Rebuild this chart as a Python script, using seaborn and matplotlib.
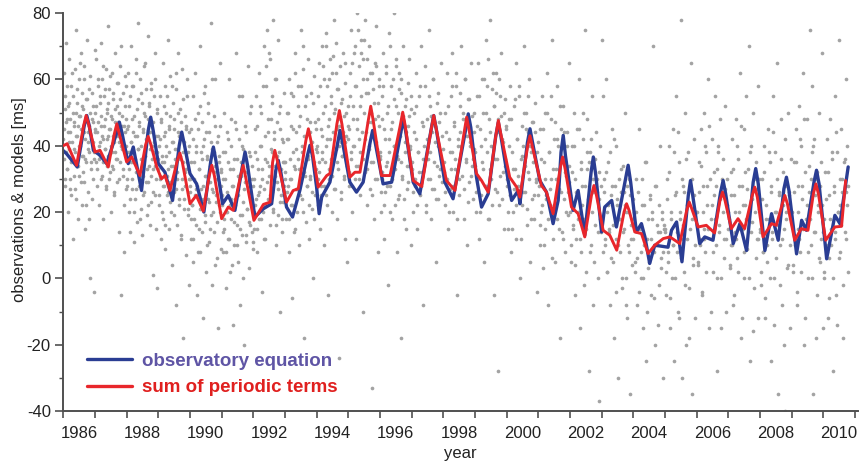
import matplotlib
matplotlib.use("Agg")
import matplotlib.pyplot as plt
from matplotlib.ticker import FixedLocator, NullFormatter
import seaborn as sns
import pandas as pd

# ---------------- data ----------------
# scattered observations, one list per year (in time order through the year)
obs_1986 = [62, 45, 28, 55, 38, 71, 33, 48, 20, 52, 41, 66, 30, 44, 58, 25, 36, 50, 12, 47, 39, 63, 27, 43, 75, 34, 53, 18, 46, 60, 31, 49, 40, 68, 22, 56, 37, 51, 29, 64, 42, 15, 54, 35, 47, 72, 26, 44, 57, 38, 0, 61, 33, 48, 24, 52, 41, 36, -4, 45]
obs_1987 = [50, 35, 66, 28, 44, 58, 40, 22, 53, 37, 71, 46, 31, 60, 42, 18, 55, 39, 48, 27, 63, 34, 51, 43, 76, 30, 57, 45, 20, 49, 38, 62, 33, 54, 41, 25, 47, 68, 36, 52, 29, 59, 43, 14, 50, 35, 64, 40, -5, 46, 31, 56, 39, 8, 44, 61, 27, 48]
obs_1988 = [45, 30, 62, 20, 38, 55, 14, 41, 70, 27, 48, 35, 58, 11, 43, 24, 66, 32, 51, 17, 39, 77, 28, 46, 60, 21, 36, 53, 13, 44, 31, 64, 26, 49, 37, 57, 19, 42, 73, 29, 52, 34, 16, 47, 59, 23, 40, 33, 1, 55, 38, 25, 68, 43, 30, -3, 50, 36]
obs_1989 = [40, 22, 55, 31, 12, 47, 35, 65, 18, 43, 28, 58, 9, 37, 50, 25, 72, 33, 15, 45, 29, 61, 20, 41, 4, 53, 34, 26, 48, 39, -8, 57, 30, 16, 44, 68, 24, 36, 51, 13, 42, 27, 63, -18, 38, 21, 49, 32, 7, 46, 35, 55, 19, 40, -2, 28]
obs_1990 = [30, 12, 45, 22, 55, 5, 35, 18, 62, 27, 40, -5, 25, 50, 15, 33, 70, 8, 38, 21, 47, 28, -12, 42, 17, 58, 31, 2, 36, 24, 53, 11, 44, 29, 77, 19, 39, -2, 26, 49, 14, 34, 60, 23, 41, 6, 30, -15, 37, 20, 46, 9, 32]
obs_1991 = [25, 8, 38, 15, 50, 30, -3, 20, 44, 12, 35, 60, 22, 2, 40, 18, 28, -14, 33, 10, 47, 24, 68, 16, 36, 5, 27, 42, -8, 19, 31, 55, 13, 39, 23, -20, 29, 46, 11, 34, 21, 64, 17, 3, 37, 26, 52, 14, 30, 9]
obs_1992 = [30, 15, 45, 22, 55, 8, 36, 25, 62, 18, 40, 28, 50, -4, 33, 20, 70, 27, 43, 12, 58, 35, 75, 24, 48, 31, 66, 16, 39, 53, 26, 78, 21, 44, 60, 34, 10, 47, 29, 72, 19, 38, -10, 52, 25, 42, 14, 35, 23, 56, 30]
obs_1993 = [35, 18, 50, 26, 42, 8, 60, 30, 22, 46, -6, 38, 55, 14, 33, 68, 27, 44, 20, 58, 36, 10, 49, 29, 75, 40, 24, 63, 32, -18, 52, 17, 43, 28, 66, 37, 12, 47, 31, 56, 21, 41, 0, 34, 61, 25, 45, 39]
obs_1994 = [40, 22, 55, 32, 65, 15, 45, 28, 70, 38, 50, 10, 60, 35, 25, 74, 42, 58, -5, 48, 30, 66, 36, 53, 20, 62, 44, 78, 27, 51, 39, 71, 18, 57, 33, 46, -24, 64, 41, 26, 54, 37, 68, 31, 49, 12, 59, 43, 34, 5, 52]
obs_1995 = [45, 28, 62, 36, 75, 20, 52, 40, 68, 30, 58, 12, 48, 80, 34, 64, 42, 25, 72, 55, 38, 66, -10, 50, 32, 78, 44, 60, 22, 56, 39, 70, 27, 47, -33, 62, 35, 53, 18, 65, 41, 76, 30, 49, 8, 58, 37]
obs_1996 = [38, 20, 55, 30, 68, 12, 45, 26, 62, 35, 50, -2, 42, 74, 28, 58, 18, 47, 33, 80, 40, 22, 64, 52, 8, 36, 57, 25, 44, -18, 60, 31, 49, 70, 24, 41, 15, 54, 34, 46, 29, 66, 39, 10, 51]
obs_1997 = [35, 20, 50, 28, 62, 42, 15, 38, 55, 25, 70, 32, 46, -8, 40, 58, 22, 48, 36, 75, 30, 52, 18, 44, 60, 27, 41, 5, 34, 56, 24, 47, 33, 65, 29, 39]
obs_1998 = [35, 22, 50, 30, 62, 15, 42, 27, 55, 38, 68, 20, 46, 33, 58, -5, 40, 25, 52, 44, 70, 31, 48, 18, 60, 36, 43, 10, 54, 29, 41, 65, 34, 24, 50, 39]
obs_1999 = [38, 20, 55, 30, 65, 12, 45, 25, 60, 35, 50, 5, 42, 72, 28, 58, 18, 48, 33, 78, 40, 22, 62, 52, -5, 36, 56, 26, 44, -28, 60, 31, 49, 68, 24, 41, 15, 54, 34, 46]
obs_2000 = [30, 15, 48, 25, 58, 8, 38, 20, 52, 33, 65, 12, 42, 28, 55, 0, 36, 22, 46, 40, 70, 26, 50, 16, 44, 32, 60, 5, 38, 24, 47, 35, 18, 53, 29, -4, 41]
obs_2001 = [28, 10, 45, 20, 55, 3, 35, 15, 50, 25, 62, -8, 38, 22, 48, 30, 72, 12, 42, 5, 33, 58, 18, 40, 27, -18, 45, 14, 36, 52, 24, 8, 31, 44, 19, 65, 29]
obs_2002 = [25, 5, 40, 15, 50, -5, 30, 12, 45, 20, 60, -15, 35, 8, 28, 42, 18, 75, 2, 33, 48, 22, -28, 38, 10, 55, 26, -8, 36, 16, 44, 30, 0, 24, -37, 40, 14]
obs_2003 = [72, 55, 30, 10, 60, 20, 2, 35, 15, -8, 25, 45, 5, -18, 28, 12, 40, 22, -30, 18, 8, 33, -3, 14, 26, 50, 0, 20, -12, 10, 30, -35, 16, 4, 24]
obs_2004 = [20, 5, 30, -8, 15, 45, 0, 22, -15, 10, 35, -25, 12, 3, 25, -5, 18, 70, 8, -20, 28, 14, -2, 40, 6, 20, -30, 16]
obs_2005 = [15, -5, 30, 5, 40, -15, 20, 0, 45, 10, -25, 25, 55, 8, -10, 35, 18, 78, -30, 12, 28, 2, 50, -20, 22, 38, -3, 15, 65, -35, 30, 6, 42, -12, 20]
obs_2006 = [20, 5, 35, 12, 45, -5, 28, 15, 50, 8, 38, 22, 60, -15, 30, 18, 42, 2, 25, 55, 10, 33, -28, 40, 16, 48, 0, 26, 36, 12, 52, -10, 30, 20]
obs_2007 = [18, 3, 32, 10, 42, -8, 25, 14, 48, 6, 36, 20, 62, -18, 28, 15, 45, 0, 22, 55, 9, 33, 70, -25, 40, 17, 50, -3, 27, 35, 12, 58, -12, 30]
obs_2008 = [15, -2, 30, 8, 40, -12, 22, 5, 45, 18, 35, -25, 28, 12, 55, 0, 38, 20, 65, -35, 25, 10, 48, -8, 32, 15, 42, -40, 20, 3, 50, 26, -15, 36]
obs_2009 = [20, 2, 35, 12, 45, -8, 28, 15, 52, 8, 40, 24, 62, -20, 32, 18, 48, 0, 26, 75, 10, 38, 58, -35, 42, 14, 30, -5, 22, 50, 5, 35, 68, -15]
obs_2010 = [18, 0, 32, 10, 42, -12, 25, 6, 48, 15, 36, -28, 28, 12, 55, -5, 38, 20, 72, 22, 8, 45, 30, -18, 35, 14, 60, 26, 40, 2]

# the dense band of observations close to the models, one list per year
band_1986 = [42, 36, 51, 30, 47, 58, 33, 44, 39, 53, 27, 48, 35, 62, 41, 55, 31, 46, 38, 50, 24, 43, 57, 34, 49, 40, 65, 29, 45, 37, 52, 32, 60, 44, 36, 48, 22, 54, 41, 39, 46, 18, 50, 35, 42, 56, 30, 47, 38, 69]
band_1987 = [44, 38, 52, 33, 47, 60, 36, 41, 55, 30, 49, 43, 64, 35, 46, 39, 57, 28, 50, 42, 37, 53, 45, 32, 61, 40, 48, 34, 56, 43, 26, 51, 38, 45, 59, 36, 47, 41, 30, 54, 44, 70, 39, 49, 33, 46, 22, 52, 40, 58]
band_1988 = [38, 28, 46, 33, 52, 24, 41, 35, 58, 30, 44, 20, 49, 36, 62, 27, 43, 39, 54, 31, 47, 18, 40, 56, 34, 45, 25, 50, 37, 65, 29, 42, 33, 48, 22, 53, 39, 44, 31, 57, 36, 26, 47, 41, 60, 34, 15, 51, 38, 43]
band_1989 = [33, 25, 42, 30, 48, 20, 37, 28, 52, 35, 44, 16, 40, 31, 55, 26, 46, 38, 23, 49, 34, 58, 29, 41, 19, 45, 36, 62, 27, 39, 32, 50, 22, 43, 37, 12, 47, 30, 54, 35, 24, 41, 28, 45, 33, 60, 38, 21, 44, 30]
band_1990 = [26, 18, 35, 22, 42, 12, 30, 25, 48, 16, 38, 28, 45, 8, 33, 21, 52, 27, 36, 14, 40, 24, 56, 19, 31, 44, 10, 37, 29, 50, 23, 34, 15, 41, 27, 60, 20, 32, 38, 4, 46, 25, 30, 17, 43, 35, 22, 65, 28, 33]
band_1991 = [22, 14, 30, 18, 38, 8, 26, 20, 42, 12, 33, 24, 48, 4, 28, 17, 36, 22, 45, 10, 31, 25, 55, 15, 35, 19, 40, 0, 27, 32, 13, 44, 21, 29, 38, 16, 50, 23, 34, 11]
band_1992 = [28, 20, 38, 24, 46, 15, 33, 26, 52, 18, 40, 30, 58, 12, 36, 22, 64, 29, 44, 34, 68, 25, 48, 38, 55, 20, 42, 31, 60, 16, 37, 27, 50, 23, 45, 33, 18, 41, 28, 35]
band_1993 = [32, 24, 42, 28, 50, 18, 36, 30, 56, 22, 45, 34, 62, 15, 39, 27, 52, 33, 46, 25, 58, 38, 70, 20, 43, 31, 55, 28, 48, 36, 22, 44, 30, 40, 26, 53, 35, 18, 47, 33]
band_1994 = [38, 30, 48, 35, 58, 25, 43, 36, 64, 28, 52, 40, 70, 22, 46, 33, 60, 42, 55, 31, 67, 38, 50, 27, 62, 45, 35, 57, 40, 48, 24, 53, 37, 44, 30, 65, 41, 50, 34, 46]
band_1995 = [42, 32, 55, 38, 65, 28, 48, 40, 70, 34, 58, 45, 75, 30, 52, 38, 68, 44, 60, 36, 72, 42, 56, 33, 66, 47, 40, 62, 35, 50, 25, 57, 43, 48, 30, 64, 39, 53, 46, 60]
band_1996 = [36, 26, 48, 32, 58, 22, 42, 34, 64, 28, 52, 38, 70, 20, 45, 30, 60, 40, 54, 33, 66, 37, 50, 24, 62, 43, 35, 56, 30, 47, 18, 52, 38, 44, 27, 59, 34, 49, 40, 55]
band_1997 = [33, 26, 44, 30, 52, 22, 38, 32, 58, 28, 47, 36, 64, 20, 42, 30, 55, 38, 49, 27, 60, 35, 46, 24, 53, 40, 31, 50, 36, 43]
band_1998 = [32, 26, 44, 30, 52, 20, 38, 33, 58, 28, 47, 36, 62, 18, 42, 30, 56, 40, 50, 27, 60, 35, 46, 23, 54, 40, 31, 49, 36, 44]
band_1999 = [34, 26, 46, 30, 55, 20, 40, 33, 60, 28, 50, 38, 66, 18, 44, 30, 57, 40, 52, 27, 62, 36, 48, 22, 55, 42, 32, 50, 36, 45]
band_2000 = [28, 20, 40, 25, 48, 15, 33, 27, 54, 22, 42, 31, 58, 12, 37, 26, 50, 34, 45, 21, 55, 30, 40, 18, 47, 35, 25, 44, 30, 38]
band_2001 = [25, 16, 36, 22, 45, 10, 30, 24, 50, 18, 38, 27, 55, 6, 33, 22, 47, 30, 42, 15, 52, 26, 36, 12, 44, 32, 20, 40, 26, 34]
band_2002 = [20, 10, 32, 16, 40, 4, 26, 18, 45, 12, 33, 22, 50, -2, 28, 15, 38, 24, 35, 8, 42, 20, 30, 5, 36, 26, 14, 32, 18, 28]
band_2003 = [18, 8, 26, 12, 32, 2, 22, 14, 38, 6, 28, 16, 42, -4, 24, 10, 30, 18, 26, 0, 34, 15, 22, -8, 28, 20, 8, 25, 12, 18]
band_2004 = [12, 2, 20, 6, 26, -4, 15, 8, 30, 0, 22, 10, 35, -10, 18, 5, 24, 12, 20, -6, 28, 10, 16, -14, 22, 14, 3, 18, 8, 15]
band_2005 = [14, 2, 24, 8, 32, -6, 18, 10, 38, 0, 26, 14, 44, -12, 20, 6, 30, 16, 26, -2, 36, 12, 22, -18, 28, 18, 4, 25, 10, 20]
band_2006 = [16, 4, 26, 10, 34, -4, 20, 12, 40, 2, 28, 15, 46, -10, 22, 8, 32, 18, 28, 0, 38, 14, 24, -15, 30, 20, 6, 27, 12, 22]
band_2007 = [15, 4, 25, 10, 33, -5, 20, 12, 40, 2, 28, 15, 46, -12, 22, 8, 32, 18, 27, 0, 38, 14, 24, -16, 30, 20, 6, 27, 12, 21]
band_2008 = [14, 2, 24, 8, 32, -6, 18, 10, 38, 0, 26, 14, 44, -14, 20, 6, 30, 16, 26, -2, 36, 12, 22, -20, 28, 18, 4, 25, 10, 20]
band_2009 = [16, 4, 26, 10, 35, -4, 20, 12, 42, 2, 28, 15, 48, -12, 22, 8, 34, 18, 30, 0, 40, 14, 25, -18, 32, 20, 6, 28, 12, 22]
band_2010 = [14, 2, 24, 8, 32, -6, 18, 10, 38, 0, 26, 14, 44, -14, 20, 6, 30, 16, 26, -2, 36, 12, 22, 28]

obs_years = list(range(1986, 2011))
obs_lists = [obs_1986, obs_1987, obs_1988, obs_1989, obs_1990, obs_1991, obs_1992,
             obs_1993, obs_1994, obs_1995, obs_1996, obs_1997, obs_1998, obs_1999,
             obs_2000, obs_2001, obs_2002, obs_2003, obs_2004, obs_2005, obs_2006,
             obs_2007, obs_2008, obs_2009, obs_2010]
band_lists = [band_1986, band_1987, band_1988, band_1989, band_1990, band_1991, band_1992,
              band_1993, band_1994, band_1995, band_1996, band_1997, band_1998, band_1999,
              band_2000, band_2001, band_2002, band_2003, band_2004, band_2005, band_2006,
              band_2007, band_2008, band_2009, band_2010]
obs_last_year_span = 0.8   # observations in 2010 end around 2010.8

# model "observatory equation" (blue)
blue_t = [1986.00, 1986.10, 1986.44, 1986.66, 1986.74, 1986.82, 1986.95, 1987.16, 1987.37,
          1987.69, 1987.77, 1987.85, 1988.05, 1988.21, 1988.47, 1988.68, 1988.76, 1988.84,
          1989.00, 1989.21, 1989.45, 1989.66, 1989.74, 1989.82, 1990.00, 1990.21, 1990.44,
          1990.66, 1990.74, 1990.82, 1991.03, 1991.21, 1991.42, 1991.66, 1991.74, 1991.82,
          1992.05, 1992.32, 1992.58, 1992.71, 1992.79, 1992.87, 1993.05, 1993.24, 1993.47,
          1993.71, 1993.79, 1993.87, 1994.00, 1994.08, 1994.16, 1994.42, 1994.66, 1994.74,
          1994.82, 1995.05, 1995.26, 1995.47, 1995.69, 1995.77, 1995.85, 1996.10, 1996.37,
          1996.66, 1996.74, 1996.82, 1997.05, 1997.26, 1997.62, 1997.70, 1997.78, 1998.05,
          1998.31, 1998.71, 1998.79, 1998.87, 1999.05, 1999.21, 1999.42, 1999.66, 1999.74,
          1999.82, 2000.05, 2000.16, 2000.37, 2000.42, 2000.66, 2000.74, 2000.82, 2001.05,
          2001.26, 2001.47, 2001.63, 2001.72, 2001.79, 2001.86, 2002.10, 2002.26, 2002.47,
          2002.67, 2002.74, 2002.82, 2003.00, 2003.10, 2003.32, 2003.47, 2003.76, 2003.84,
          2003.92, 2004.10, 2004.26, 2004.37, 2004.52, 2004.68, 2005.10, 2005.21, 2005.37,
          2005.54, 2005.74, 2005.81, 2005.88, 2006.10, 2006.26, 2006.52, 2006.76, 2006.84,
          2006.92, 2007.16, 2007.37, 2007.58, 2007.79, 2007.87, 2007.95, 2008.16, 2008.37,
          2008.58, 2008.76, 2008.84, 2008.92, 2009.16, 2009.32, 2009.47, 2009.71, 2009.79,
          2009.87, 2010.11, 2010.37, 2010.53, 2010.79]
blue_v = [38.5, 37.6, 33.6, 46.0, 49.1, 46.0, 38.6, 37.1, 34.6,
          44.0, 47.1, 44.0, 34.6, 39.6, 26.5, 44.5, 48.6, 44.5,
          34.6, 32.0, 23.5, 40.0, 44.1, 40.5, 31.6, 28.5, 20.0,
          35.5, 39.6, 35.5, 22.5, 25.0, 20.5, 34.0, 38.1, 34.0,
          18.5, 21.0, 22.5, 32.5, 35.6, 32.0, 21.5, 18.5, 26.5,
          37.0, 40.1, 37.0, 27.5, 19.5, 24.5, 29.0, 40.5, 44.6,
          41.0, 29.0, 26.0, 29.0, 41.0, 44.6, 41.0, 28.5, 29.0,
          44.0, 48.1, 44.0, 29.0, 25.5, 45.0, 49.1, 45.0, 29.0,
          24.0, 45.0, 49.6, 45.5, 30.5, 21.5, 25.5, 43.0, 47.1,
          43.0, 29.5, 23.5, 26.5, 22.5, 41.0, 45.1, 41.0, 29.5,
          26.0, 16.5, 23.5, 38.0, 43.1, 37.0, 20.5, 26.5, 13.0,
          32.0, 36.6, 31.0, 14.0, 21.5, 23.5, 15.5, 30.0, 34.1,
          29.0, 14.0, 16.5, 12.5, 4.5, 10.0, 9.4, 14.5, 17.0,
          5.0, 25.0, 29.5, 25.0, 10.5, 12.5, 11.5, 26.0, 29.5,
          25.5, 10.5, 16.5, 8.4, 29.0, 33.1, 28.5, 8.4, 19.5,
          11.5, 27.0, 30.5, 26.5, 7.4, 17.5, 14.5, 29.0, 32.6,
          28.5, 5.9, 19.0, 16.5, 33.6]

# model "sum of periodic terms" (red)
red_t = [1986.00, 1986.12, 1986.42, 1986.64, 1986.72, 1986.80, 1987.00, 1987.16, 1987.42,
         1987.61, 1987.69, 1987.77, 1988.00, 1988.16, 1988.42, 1988.60, 1988.68, 1988.76,
         1988.95, 1989.10, 1989.21, 1989.37, 1989.60, 1989.68, 1989.76, 1990.00, 1990.20,
         1990.42, 1990.61, 1990.69, 1990.77, 1991.00, 1991.21, 1991.37, 1991.60, 1991.68,
         1991.76, 1992.02, 1992.32, 1992.53, 1992.61, 1992.68, 1992.76, 1993.05, 1993.26,
         1993.42, 1993.66, 1993.74, 1993.82, 1994.05, 1994.32, 1994.42, 1994.64, 1994.72,
         1994.80, 1995.05, 1995.21, 1995.37, 1995.63, 1995.71, 1995.79, 1996.05, 1996.32,
         1996.64, 1996.72, 1996.80, 1997.05, 1997.32, 1997.62, 1997.70, 1997.78, 1998.10,
         1998.37, 1998.66, 1998.74, 1998.82, 1999.05, 1999.21, 1999.42, 1999.66, 1999.74,
         1999.82, 2000.10, 2000.32, 2000.42, 2000.66, 2000.74, 2000.82, 2001.10, 2001.26,
         2001.47, 2001.69, 2001.77, 2001.85, 2002.05, 2002.26, 2002.47, 2002.68, 2002.76,
         2002.84, 2003.05, 2003.26, 2003.48, 2003.71, 2003.79, 2003.87, 2004.05, 2004.26,
         2004.47, 2004.68, 2004.95, 2005.16, 2005.47, 2005.69, 2005.77, 2005.85, 2006.05,
         2006.31, 2006.57, 2006.74, 2006.82, 2006.90, 2007.10, 2007.31, 2007.52, 2007.76,
         2007.84, 2007.92, 2008.10, 2008.37, 2008.52, 2008.71, 2008.79, 2008.87, 2009.10,
         2009.31, 2009.52, 2009.69, 2009.77, 2009.85, 2010.08, 2010.37, 2010.58, 2010.71]
red_v = [40.0, 40.6, 34.1, 46.0, 49.1, 46.5, 38.1, 38.6, 33.6,
         43.5, 46.6, 43.5, 35.1, 36.6, 31.0, 40.3, 42.8, 40.5,
         33.6, 30.0, 31.0, 26.5, 35.5, 37.8, 35.0, 22.5, 25.0,
         20.3, 31.0, 34.1, 31.0, 18.0, 21.5, 20.5, 31.0, 34.1,
         30.5, 17.5, 22.3, 23.0, 35.0, 38.6, 35.5, 23.0, 26.5,
         27.0, 41.5, 45.1, 41.5, 27.5, 31.0, 31.6, 46.5, 50.6,
         46.5, 30.5, 32.0, 32.0, 47.5, 51.9, 47.5, 31.0, 31.0,
         46.0, 50.1, 46.0, 29.5, 27.7, 45.0, 49.1, 45.0, 29.5,
         26.5, 44.0, 48.6, 44.5, 31.6, 29.5, 26.0, 43.0, 47.6,
         43.5, 30.5, 27.5, 24.5, 39.5, 43.0, 39.5, 28.0, 26.0,
         19.5, 33.0, 36.6, 33.0, 21.5, 19.5, 12.5, 25.0, 28.0,
         25.0, 14.5, 13.0, 8.5, 20.0, 22.5, 20.5, 14.0, 13.5,
         7.5, 10.0, 12.0, 12.5, 10.5, 20.5, 23.0, 21.0, 15.5,
         16.0, 13.7, 23.5, 26.0, 23.5, 15.0, 18.0, 15.0, 25.0,
         27.5, 24.5, 12.5, 16.5, 16.0, 22.5, 25.0, 22.5, 11.5,
         15.0, 14.5, 25.5, 28.5, 25.5, 11.5, 15.5, 15.7, 29.5]

series_names = ["observatory equation", "sum of periodic terms"]
y_ticks = [80, 60, 40, 20, 0, -20, -40]
x_label_years = list(range(1986, 2011, 2))

# ---------------- build tables ----------------
obs_t, obs_v = [], []
for yr, vals, band in zip(obs_years, obs_lists, band_lists):
    span = obs_last_year_span if yr == obs_years[-1] else 1.0
    for lst, off in ((vals, 0.5), (band, 0.25)):
        n = len(lst)
        for i, v in enumerate(lst):
            obs_t.append(yr + span * (i + off) / n)
            obs_v.append(v)
obs_df = pd.DataFrame({"year": obs_t, "value": obs_v})
blue_df = pd.DataFrame({"year": blue_t, "value": blue_v})
red_df = pd.DataFrame({"year": red_t, "value": red_v})

# ---------------- plot ----------------
sns.set_theme(style="white")
plt.rcParams["font.family"] = ["Liberation Sans", "DejaVu Sans"]
plt.rcParams["axes.unicode_minus"] = False

fig = plt.figure(figsize=(8.65, 4.65), dpi=100)
ax = fig.add_axes([0.0732, 0.116, 0.9187, 0.856])

sns.scatterplot(data=obs_df, x="year", y="value", ax=ax, color="#a3a3a3",
                s=7, linewidth=0, zorder=1)
BLUE = "#2a3d93"
RED = "#e8262b"
sns.lineplot(data=blue_df, x="year", y="value", ax=ax, color=BLUE, lw=2.4,
             sort=False, estimator=None, label=series_names[0], zorder=2)
sns.lineplot(data=red_df, x="year", y="value", ax=ax, color=RED, lw=2.1,
             sort=False, estimator=None, label=series_names[1], zorder=3)
for ln in ax.get_lines():
    ln.set_solid_joinstyle("round")

ax.set_xlim(1986.0, 2011.1)
ax.set_ylim(-40, 80)

spine_c = "#505050"
for side in ["top", "right"]:
    ax.spines[side].set_visible(False)
for side in ["left", "bottom"]:
    ax.spines[side].set_color(spine_c)
    ax.spines[side].set_linewidth(1.4)

# y ticks
ax.set_yticks(y_ticks)
ax.set_yticklabels([str(v) for v in y_ticks])
ax.yaxis.set_minor_locator(FixedLocator([70, 50, 30, 10, -10, -30]))
ax.tick_params(axis="y", which="major", direction="out", length=6, width=1.2,
               color=spine_c, labelsize=12, labelcolor="#222222", pad=3, left=True)
ax.tick_params(axis="y", which="minor", direction="out", length=3, width=1.0,
               color=spine_c, left=True)

# x ticks: a tick at every year, labels centred in the even years
ax.set_xticks(list(range(1986, 2012)))
ax.xaxis.set_major_formatter(NullFormatter())
ax.xaxis.set_minor_locator(FixedLocator([y + 0.5 for y in x_label_years]))
ax.set_xticklabels([str(y) for y in x_label_years], minor=True)
ax.tick_params(axis="x", which="major", direction="out", length=5, width=1.2,
               color=spine_c, bottom=True)
ax.tick_params(axis="x", which="minor", length=0, labelsize=12,
               labelcolor="#222222", pad=11, bottom=True)

ax.set_xlabel("year", fontsize=12, color="#222222")
ax.xaxis.set_label_coords(0.5, -0.088)
ax.set_ylabel("observations & models [ms]", fontsize=12, color="#222222")
ax.yaxis.set_label_coords(-0.046, 0.53)
ax.grid(False)

leg = ax.legend(loc="lower left", bbox_to_anchor=(0.008, -0.005), frameon=False,
                handlelength=2.4, handletextpad=0.55, labelspacing=0.5,
                prop={"weight": "bold", "size": 13.5})
for txt, c in zip(leg.get_texts(), ["#5f55a5", "#e0201f"]):
    txt.set_color(c)
for h in leg.legend_handles:
    h.set_linewidth(2.4)

fig.savefig("out.png", dpi=100)
